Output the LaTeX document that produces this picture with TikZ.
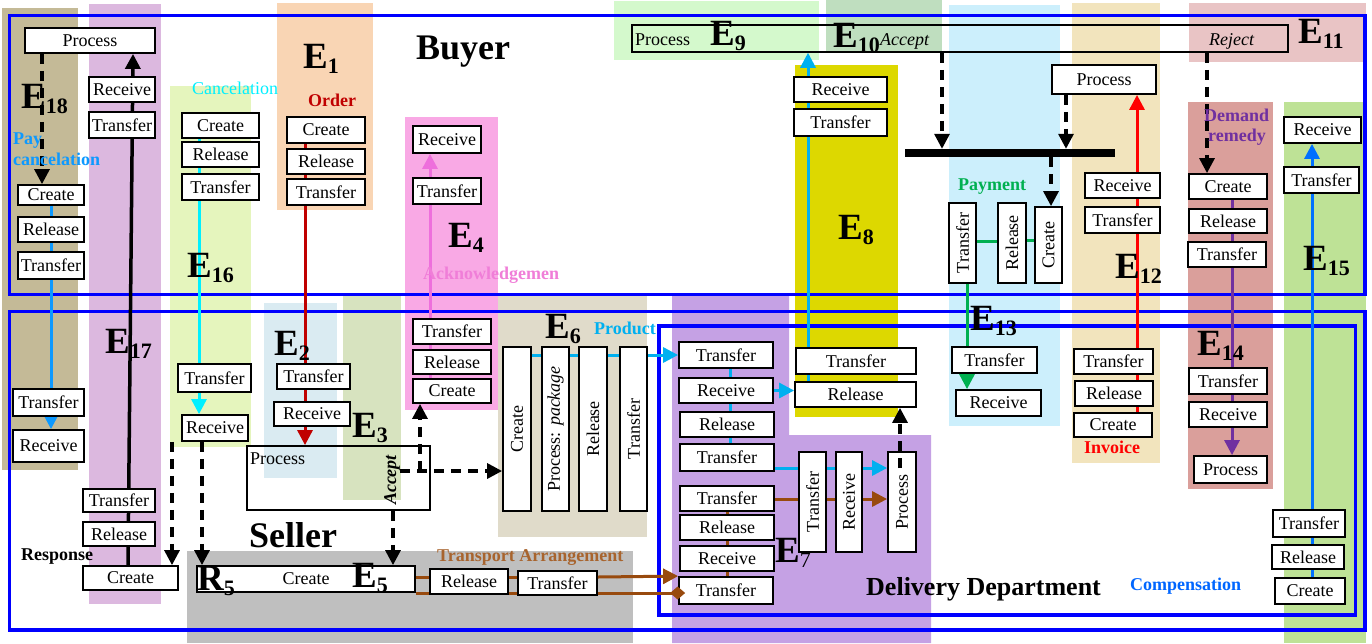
\documentclass[tikz,border=0pt]{standalone}
\usepackage{fontspec}
\setmainfont{Liberation Serif}
\usepackage{graphicx}
\usetikzlibrary{arrows.meta}
\pgfdeclarelayer{bgl}
\pgfdeclarelayer{lnl}
\pgfsetlayers{bgl,lnl,main}
\definecolor{cE18}{HTML}{C4BA97}
\definecolor{cE17}{HTML}{DCB8DF}
\definecolor{cE16}{HTML}{E5F5BD}
\definecolor{cE1}{HTML}{F9D5B4}
\definecolor{cE2}{HTML}{DAEBF2}
\definecolor{cE3}{HTML}{D7E3BF}
\definecolor{cE4}{HTML}{F9A9E5}
\definecolor{cE6}{HTML}{E0DBCA}
\definecolor{cE5}{HTML}{BFBFBF}
\definecolor{cE9}{HTML}{D4F9CC}
\definecolor{cE10}{HTML}{BFDEBF}
\definecolor{cE8}{HTML}{DDD800}
\definecolor{cE7}{HTML}{C5A1E4}
\definecolor{cE13}{HTML}{CCEFFC}
\definecolor{cE12}{HTML}{F2E4BD}
\definecolor{cE11}{HTML}{E9C4C5}
\definecolor{cE14}{HTML}{DA9F9B}
\definecolor{cE15}{HTML}{BEE296}
\definecolor{cPay}{HTML}{0D99FF}
\definecolor{cCyan}{HTML}{00F0FF}
\definecolor{cOrder}{HTML}{C00000}
\definecolor{cAck}{HTML}{EE6FDC}
\definecolor{cAckT}{HTML}{F07ED8}
\definecolor{cProd}{HTML}{00B0F0}
\definecolor{cBrown}{HTML}{984A0E}
\definecolor{cBrownT}{HTML}{A8642E}
\definecolor{cRed}{HTML}{FF0000}
\definecolor{cGreen}{HTML}{00B050}
\definecolor{cPurple}{HTML}{7030A0}
\definecolor{cBlue}{HTML}{0070FF}
\definecolor{cComp}{HTML}{0066FF}
\definecolor{cFrame}{HTML}{0000FF}
\tikzset{
  box/.style={draw, line width=1.8pt, fill=white, inner sep=0pt, font=\fontsize{18}{18}\selectfont},
  ln/.style={line width=3pt},
  arr/.style={-{Triangle[width=15pt,length=15pt]}},
  dsh/.style={line width=3.2pt, dash pattern=on 10pt off 7pt, black},
  lab/.style={anchor=base west, inner sep=0pt},
  lbl/.style={anchor=base west, inner sep=0pt, font=\bfseries\fontsize{18}{18}\selectfont},
  txt/.style={anchor=base west, inner sep=0pt, font=\fontsize{18}{18}\selectfont},
  frame/.style={draw=cFrame, line width=3.5pt}
}
\newcommand\bx[7][]{\node[box,minimum width={(#5-#3)*1pt},minimum height={(#6-#4)*1pt},#1] (#2) at ({(#3+#5)/2},{(#4+#6)/2}) {#7};}
\newcommand\vbx[7][]{\node[box,minimum width={(#5-#3)*1pt},minimum height={(#6-#4)*1pt},#1] (#2) at ({(#3+#5)/2},{(#4+#6)/2}) {\rotatebox{90}{#7}};}
\newcommand\EL[2]{{\bfseries\fontsize{37}{37}\selectfont #1\fontsize{22}{22}\selectfont\raisebox{-5pt}{#2}}}
\begin{document}
\begin{tikzpicture}[x=1pt,y=-1pt]
\useasboundingbox (0,0) rectangle (1372,643);
% ---------- backgrounds ----------
\begin{pgfonlayer}{bgl}
\fill[white] (0,0) rectangle (1372,643);
\fill[cE18] (2,8) rectangle (78,470);
\fill[cE17] (89,4) rectangle (161,604);
\fill[cE16] (170,86) rectangle (251,447);
\fill[cE1] (277,3) rectangle (373,210);
\fill[cE2] (264,303) rectangle (337,478);
\fill[cE3] (343,296) rectangle (401,500);
\fill[cE4] (405,117) rectangle (498,410);
\fill[cE6] (498,296) rectangle (647,537);
\fill[cE5] (187,551) rectangle (633,643);
\fill[cE9] (614,1) rectangle (819,60);
\fill[cE10] (826,0) rectangle (942,53);
\fill[cE8] (795,65) rectangle (898,417);
\fill[cE7] (672,296) -- (789,296) -- (789,435) -- (931,435) -- (931,643) -- (672,643) -- cycle;
\fill[cE13] (949,5) rectangle (1060,426);
\fill[cE12] (1072,3) rectangle (1160,463);
\fill[cE11] (1189,3) rectangle (1366,62);
\fill[cE14] (1188,102) rectangle (1273,489);
\fill[cE15] (1284,102) rectangle (1366,643);
\draw[frame] (9.5,15.5) rectangle (1365,294.5);
\draw[frame] (9.5,311.5) rectangle (1365,630);
\draw[frame] (659,326) rectangle (1355.5,615);
\end{pgfonlayer}
% ---------- boxes ----------
% E18
\bx{p18}{25}{28}{155}{53}{Process}
\bx{c18}{18}{185}{84}{205}{Create}
\bx{rl18}{18}{217}{84}{242}{Release}
\bx{t18}{18}{252}{84}{279}{Transfer}
\bx{t18s}{13}{389}{84}{416}{Transfer}
\bx{rc18s}{13}{430}{84}{462}{Receive}
% E17
\bx{rc17}{89}{77}{155}{102}{Receive}
\bx{t17}{89}{112}{155}{138}{Transfer}
\bx{t17s}{83}{489}{155}{512}{Transfer}
\bx{rl17s}{83}{522}{155}{546}{Release}
\bx{c17s}{83}{566}{178}{590}{Create}
% E16
\bx{c16}{182}{113}{259}{138}{Create}
\bx{rl16}{182}{142}{259}{167}{Release}
\bx{t16}{182}{174}{259}{200}{Transfer}
\bx{t16s}{178}{364}{251}{392}{Transfer}
\bx{rc16s}{182}{415}{248}{441}{Receive}
% E1 / E2
\bx{c1}{287}{117}{365}{143}{Create}
\bx{rl1}{287}{149}{365}{174}{Release}
\bx{t1}{287}{179}{365}{205}{Transfer}
\bx{t2}{277}{364}{350}{389}{Transfer}
\bx{rc2}{274}{402}{350}{426}{Receive}
\bx[fill=none]{pr2}{247}{446}{430}{510}{}
% E4
\bx{rc4}{413}{126}{481}{153}{Receive}
\bx{t4}{413}{178}{481}{204}{Transfer}
\bx{t4s}{413}{319}{491}{344}{Transfer}
\bx{rl4s}{413}{350}{491}{374}{Release}
\bx{c4s}{413}{379}{491}{403}{Create}
% E6
\vbx{c6}{503}{347}{531}{511}{Create}
\vbx{pk6}{542}{347}{569}{511}{Process: \textit{package}}
\vbx{rl6}{579}{347}{607}{511}{Release}
\vbx{t6}{620}{347}{647}{511}{Transfer}
% E5
\bx{c5}{197}{566}{415}{592}{Create}
\bx{rl5}{430}{569}{508}{594}{Release}
\bx{t5}{518}{571}{597}{595}{Transfer}
% E7
\bx{t7a}{679}{342}{773}{368}{Transfer}
\bx{rc7a}{679}{378}{773}{403}{Receive}
\bx{rl7a}{680}{412}{774}{437}{Release}
\bx{t7b}{680}{444}{774}{471}{Transfer}
\bx{t7c}{680}{486}{774}{511}{Transfer}
\bx{rl7b}{680}{515}{774}{540}{Release}
\bx{rc7b}{680}{546}{774}{571}{Receive}
\bx{t7d}{679}{577}{773}{604}{Transfer}
\vbx{t7v}{799}{452}{826}{552}{Transfer}
\vbx{rc7v}{836}{452}{862}{552}{Receive}
\vbx{pr7v}{888}{452}{916}{552}{Process}
% E8
\bx{rc8}{794}{77}{887}{102}{Receive}
\bx{t8}{794}{109}{887}{136}{Transfer}
\bx{t8s}{796}{348}{916}{374}{Transfer}
\bx{rl8s}{795}{382}{916}{407}{Release}
% E9-E11 long box and bar
\node[draw, line width=1.5pt, inner sep=0pt, minimum width=656pt, minimum height=27pt] (pE9) at (960,38.5) {};
\node[fill=black, inner sep=0pt, minimum width=210pt, minimum height=8pt] (bar) at (1010,153) {};
% E12
\bx{pr12}{1052}{65}{1156}{94}{Process}
\bx{rc12}{1085}{173}{1160}{198}{Receive}
\bx{t12}{1085}{207}{1160}{233}{Transfer}
\bx{t12s}{1074}{349}{1153}{374}{Transfer}
\bx{rl12s}{1075}{381}{1153}{406}{Release}
\bx{c12s}{1074}{413}{1152}{437}{Create}
% E13
\vbx{t13}{949}{203}{976}{283}{Transfer}
\vbx{rl13}{998}{203}{1026}{283}{Release}
\vbx{c13}{1035}{207}{1062}{283}{Create}
\bx{t13s}{952}{347}{1037}{373}{Transfer}
\bx{rc13s}{956}{390}{1041}{416}{Receive}
% E14
\bx{c14}{1189}{174}{1267}{199}{Create}
\bx{rl14}{1189}{209}{1267}{233}{Release}
\bx{t14}{1188}{242}{1266}{267}{Transfer}
\bx{t14s}{1189}{368}{1267}{394}{Transfer}
\bx{rc14s}{1189}{402}{1267}{427}{Receive}
\bx{p14s}{1194}{456}{1267}{483}{Process}
% E15
\bx{rc15}{1284}{117}{1361}{143}{Receive}
\bx{t15}{1284}{167}{1359}{193}{Transfer}
\bx{t15s}{1273}{510}{1345}{537}{Transfer}
\bx{rl15s}{1272}{545}{1344}{569}{Release}
\bx{c15s}{1275}{578}{1345}{604}{Create}
% ---------- connectors ----------
\begin{pgfonlayer}{lnl}
\draw[ln, cPay, arr] (51,0 |- c18.south) -- (51,0 |- rc18s.north);
\draw[line width=3.5pt, black, arr] (128,0 |- c17s.north) -- (133,0 |- p18.south);
\draw[ln, cCyan, arr] (199,0 |- c16.south) -- (199,0 |- rc16s.north);
\draw[ln, cOrder, arr] (305,0 |- c1.south) -- (305,0 |- pr2.north);
\draw[ln, cAck, arr] (430,0 |- c4s.north) -- (430,0 |- rc4.south);
\draw[ln, cProd, arr] (c6 |- t7a) -- (t7a.west);
\draw[ln, cBrown] (c5.east |- 0,577) -- (t5.west |- 0,577);
\draw[ln, cBrown] (c5.east |- 0,593) -- (t5.west |- 0,593);
\draw[ln, cProd] (730,0 |- t7a.south) -- (730,0 |- t7b.north);
\draw[ln, cBrown] (727,0 |- t7c.south) -- (727,0 |- t7d.north);
\draw[ln, cProd, arr] (rc7a.east) -- (rc7a.east -| rl8s.west);
\draw[ln, cProd, arr] (t7b.east |- 0,468) -- (pr7v.west |- 0,468);
\draw[ln, cBrown, arr] (t7c.east |- 0,499) -- (pr7v.west |- 0,499);
\draw[ln, cProd, arr] (808,0 |- rl8s.north) -- (808,0 |- pE9.south);
\draw[ln, cRed, arr] (1137,0 |- c12s.north) -- (1137,0 |- pr12.south);
\draw[ln, cGreen] (t13.east |- 0,241) -- (rl13.west |- 0,241);
\draw[ln, cGreen] (rl13.east |- 0,240) -- (c13.west |- 0,240);
\draw[ln, cGreen, arr] (967,0 |- t13.south) -- (967,0 |- rc13s.north);
\draw[ln, cPurple, arr] (1232,0 |- c14.south) -- (1232,0 |- p14s.north);
\draw[ln, cBlue, arr] (1312,0 |- c15s.north) -- (1312,0 |- rc15.south);
% dashed
\draw[dsh, arr] (42,0 |- p18.south) -- (42,0 |- c18.north);
\draw[dsh, arr] (172,0 |- rc16s.south) -- (172,0 |- c17s.north);
\draw[dsh, arr] (202,0 |- rc16s.south) -- (202,0 |- c5.north);
\draw[dsh, arr] (393,0 |- pr2.south) -- (393,0 |- c5.north);
\draw[dsh, arr] (400,471) -- (c6.west |- 0,471);
\draw[dsh, arr] (420,471) -- (420,0 |- c4s.south);
\draw[dsh, arr] (942,0 |- pE9.south) -- (942,0 |- bar.north);
\draw[dsh, arr] (1066,0 |- pr12.south) -- (1066,0 |- bar.north);
\draw[dsh, arr] (1051,0 |- bar.south) -- (1051,0 |- c13.north);
\draw[dsh, arr] (1207,0 |- pE9.south) -- (1207,0 |- c14.north);
\end{pgfonlayer}
\draw[ln, cBrown, arr] (t5.east |- 0,577) -- (t7d.north west);
\draw[ln, cBrown, -{Diamond[width=13pt,length=15pt]}] (t5.east |- 0,593) -- ([xshift=7pt]t7d.west |- 0,593);
\draw[dsh, arr] (900,468) -- (900,0 |- rl8s.south);
% ---------- texts ----------
\node[lbl] (tBuyer) at (416,59) {\fontsize{36}{36}\selectfont Buyer};
\node[lbl] (tSeller) at (249,547) {\fontsize{36}{36}\selectfont Seller};
\node[lbl] (tDel) at (866,595) {\fontsize{26}{26}\selectfont Delivery Department};
\node[lbl, text=cOrder] (tOrder) at (308,106) {Order};
\node[txt, text=cCyan] (tCanc) at (192,94.5) {Cancelation};
\node[lbl, text=cPay] (tPay) at (13,144) {Pay};
\node[lbl, text=cPay] (tPay2) at (13,165) {cancelation};
\node[lbl] (tResp) at (21,560) {Response};
\node[lbl, text=cAckT] (tAck) at (423,279) {Acknowledgemen};
\node[lbl, text=cProd] (tProd) at (594,334) {Product};
\node[lbl, text=cBrownT] (tTrans) at (437,561) {Transport Arrangement};
\node[lbl, text=cGreen] (tPaym) at (958,190) {Payment};
\node[lbl, text=cRed] (tInv) at (1084,453) {Invoice};
\node[lbl, text=cPurple] (tDem) at (1204,121) {Demand};
\node[lbl, text=cPurple] (tDem2) at (1208,141) {remedy};
\node[lbl, text=cComp] (tComp) at (1130,590) {Compensation};
\node[txt, font=\itshape\fontsize{18}{18}\selectfont] (tAcc) at (880,45) {Accept};
\node[txt, font=\itshape\fontsize{18}{18}\selectfont] (tRej) at (1209,45) {Reject};
\node[txt] (tProc9) at (635,45) {Process};
\node[txt] (tProc2) at (250,464) {Process};
\node[inner sep=0pt, rotate=90, font=\bfseries\itshape\fontsize{18}{18}\selectfont] (tAcc3) at (392,480) {Accept};
% E labels
\node[lab] (l18) at (21,108) {\EL{E}{18}};
\node[lab] (l17) at (105,353) {\EL{E}{17}};
\node[lab] (l16) at (187,277) {\EL{E}{16}};
\node[lab] (l1) at (303,68) {\EL{E}{1}};
\node[lab] (l2) at (274,355) {\EL{E}{2}};
\node[lab] (l3) at (352,437) {\EL{E}{3}};
\node[lab] (l4) at (448,247) {\EL{E}{4}};
\node[lab] (l5) at (352,587) {\EL{E}{5}};
\node[lab] (l6) at (545,338) {\EL{E}{6}};
\node[lab] (l7) at (775,562) {\EL{E}{\mdseries 7}};
\node[lab] (l8) at (838,239) {\EL{E}{8}};
\node[lab] (l9) at (710,45) {\EL{E}{9}};
\node[lab] (l10) at (833,47) {\EL{E}{10}};
\node[lab] (l11) at (1298,43) {\EL{E}{11}};
\node[lab] (l12) at (1115,278) {\EL{E}{12}};
\node[lab] (l13) at (970,330) {\EL{E}{13}};
\node[lab] (l14) at (1197,355) {\EL{E}{14}};
\node[lab] (l15) at (1303,270) {\EL{E}{15}};
\node[lab] (lR5) at (197,590) {\EL{R}{5}};
\end{tikzpicture}
\end{document}
